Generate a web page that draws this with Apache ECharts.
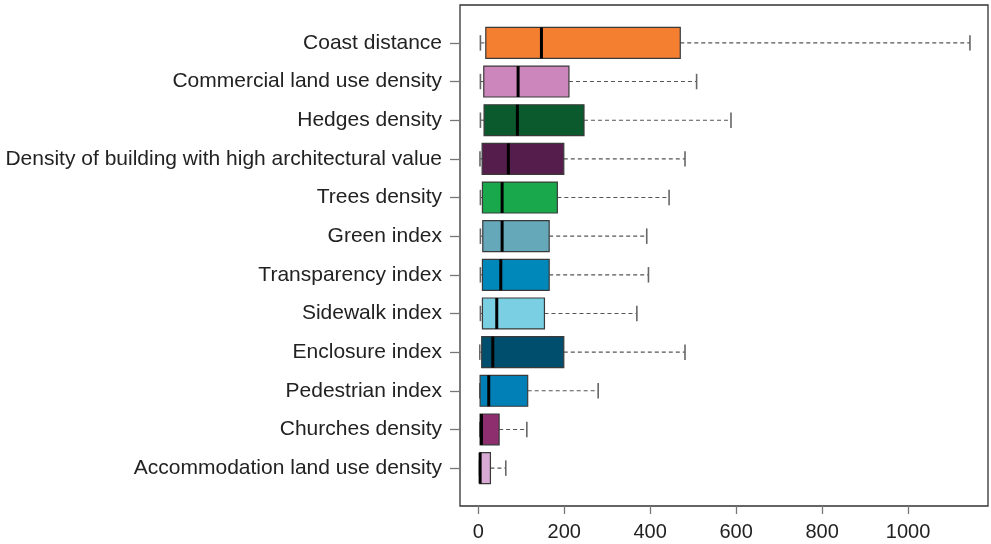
<!DOCTYPE html>
<html>
<head>
<meta charset="utf-8">
<title>Box plots of urban indicators</title>
<script src="https://cdn.jsdelivr.net/npm/echarts@6/dist/echarts.min.js"></script>
<style>
  html, body { margin: 0; padding: 0; background: #ffffff; }
  #chart { width: 991px; height: 544px; }
</style>
</head>
<body>
<div id="chart"></div>
<script>
// Indicator names, top to bottom
const categories = [
  'Coast distance',
  'Commercial land use density',
  'Hedges density',
  'Density of building with high architectural value',
  'Trees density',
  'Green index',
  'Transparency index',
  'Sidewalk index',
  'Enclosure index',
  'Pedestrian index',
  'Churches density',
  'Accommodation land use density'
];

// Five-number summaries per indicator
const lowWhisker  = [5,    5,    5,    4,    5,    5,    5,    5,    3.5,  3.5,  3.5,  3];
const q1          = [17.5, 12.8, 13.5, 9,    9.7,  10.5, 9.7,  9.7,  8,    4.3,  4.3,  3.5];
const medians     = [147,  92.7, 91,   70,   55.5, 55.5, 52.4, 43,   33.8, 24.4, 7.4,  4.3];
const q3          = [470,  211,  246,  199,  184,  165,  165,  154,  199,  115,  48.5, 28.3];
const highWhisker = [1144, 508,  588,  481,  444,  392,  396,  369,  481,  279,  113,  64];

const boxColors = [
  '#F47F30', '#CC86BB', '#0B5A2E', '#551D4B', '#19A84B', '#64A8B9',
  '#0088BA', '#7ACFE3', '#004E6E', '#0080B6', '#8E2E6F', '#D8A9D3'
];

const xTicks = [0, 200, 400, 600, 800, 1000];
const yTicks = categories.map((_, i) => i + 1);

const FONT = '"Liberation Sans", Arial, sans-serif';

const seriesData = categories.map((name, i) => ({
  name: name,
  value: [i + 1, lowWhisker[i], q1[i], medians[i], q3[i], highWhisker[i]],
  itemStyle: { color: boxColors[i] }
}));

function renderBox(params, api) {
  const pos = api.value(0);
  const lo = api.value(1), a = api.value(2), m = api.value(3), b = api.value(4), hi = api.value(5);
  const half = api.size([0, 0.8])[1] / 2;
  const capHalf = api.size([0, 0.4])[1] / 2;
  const pLo = api.coord([lo, pos]);
  const pA = api.coord([a, pos]);
  const pM = api.coord([m, pos]);
  const pB = api.coord([b, pos]);
  const pHi = api.coord([hi, pos]);
  const cy = pA[1];
  const fill = boxColors[params.dataIndex];
  const whisker = { stroke: '#555', lineWidth: 1.1, lineDash: [4, 3] };
  const cap = { stroke: '#666', lineWidth: 1.6 };
  return {
    type: 'group',
    children: [
      { type: 'line', shape: { x1: pB[0], y1: cy, x2: pHi[0], y2: cy }, style: whisker },
      { type: 'line', shape: { x1: pLo[0], y1: cy, x2: pA[0], y2: cy }, style: whisker },
      { type: 'line', shape: { x1: pHi[0], y1: cy - capHalf, x2: pHi[0], y2: cy + capHalf }, style: cap },
      { type: 'line', shape: { x1: pLo[0], y1: cy - capHalf, x2: pLo[0], y2: cy + capHalf }, style: cap },
      {
        type: 'rect',
        shape: { x: pA[0], y: cy - half, width: pB[0] - pA[0], height: half * 2 },
        style: { fill: fill, stroke: '#3a3a3a', lineWidth: 1.2 }
      },
      {
        type: 'line',
        shape: { x1: pM[0], y1: cy - half, x2: pM[0], y2: cy + half },
        style: { stroke: '#000', lineWidth: 3 }
      }
    ]
  };
}

const chart = echarts.init(document.getElementById('chart'), null, { renderer: 'canvas' });
chart.setOption({
  animation: false,
  backgroundColor: '#ffffff',
  grid: {
    left: 460, right: 3, top: 5, bottom: 38,
    show: true, borderColor: '#333', borderWidth: 1.3, backgroundColor: 'transparent'
  },
  xAxis: {
    type: 'value',
    min: -42.5,
    max: 1186,
    splitLine: { show: false },
    axisLine: { show: false, onZero: false },
    axisTick: { show: true, length: 8, customValues: xTicks, lineStyle: { color: '#777', width: 1.3 } },
    axisLabel: {
      customValues: xTicks,
      margin: 16,
      fontFamily: FONT,
      fontSize: 20,
      color: '#222',
      formatter: (v) => String(v)
    }
  },
  yAxis: {
    type: 'value',
    inverse: true,
    min: 0.02,
    max: 12.98,
    splitLine: { show: false },
    axisLine: { show: false, onZero: false },
    axisTick: { show: true, length: 10, customValues: yTicks, lineStyle: { color: '#777', width: 1.3 } },
    axisLabel: {
      customValues: yTicks,
      margin: 18,
      fontFamily: FONT,
      fontSize: 21,
      color: '#222',
      formatter: (v) => categories[Math.round(v) - 1] || ''
    }
  },
  series: [{
    type: 'custom',
    renderItem: renderBox,
    encode: { x: [1, 2, 3, 4, 5], y: 0 },
    data: seriesData,
    clip: false
  }]
});
</script>
</body>
</html>
